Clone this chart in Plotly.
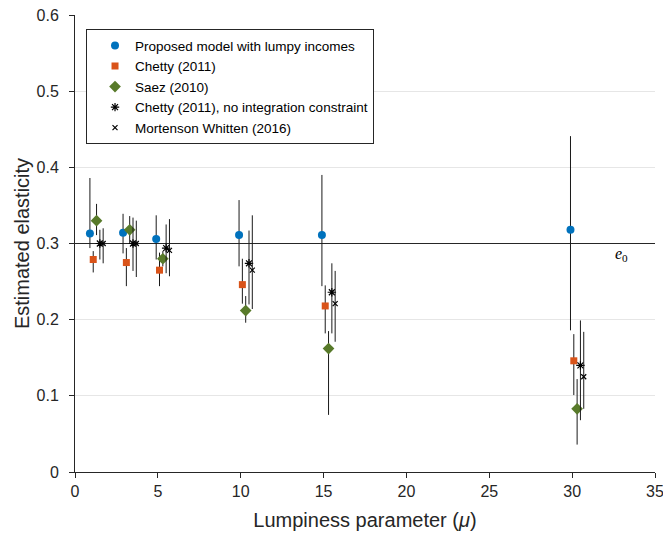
import plotly.graph_objects as go

# lumpiness parameter values
mu = [1, 3, 5, 10, 15, 30]

# estimates and 95% bands
proposed = [0.313, 0.314, 0.306, 0.311, 0.311, 0.318]
proposed_lo = [0.294, 0.287, 0.279, 0.270, 0.244, 0.186]
proposed_hi = [0.386, 0.339, 0.337, 0.357, 0.390, 0.441]

chetty = [0.279, 0.275, 0.265, 0.246, 0.218, 0.146]
chetty_lo = [0.262, 0.244, 0.244, 0.221, 0.182, 0.101]
chetty_hi = [0.290, 0.294, 0.288, 0.280, 0.245, 0.181]

saez = [0.330, 0.318, 0.280, 0.212, 0.162, 0.083]
saez_lo = [0.311, 0.300, 0.270, 0.196, 0.075, 0.036]
saez_hi = [0.352, 0.336, 0.290, 0.231, 0.185, 0.122]

chetty_nic = [0.300, 0.300, 0.294, 0.274, 0.236, 0.140]
chetty_nic_lo = [0.279, 0.264, 0.261, 0.220, 0.182, 0.068]
chetty_nic_hi = [0.318, 0.334, 0.325, 0.317, 0.274, 0.199]

mw = [0.300, 0.300, 0.291, 0.265, 0.221, 0.125]
mw_lo = [0.274, 0.256, 0.257, 0.214, 0.171, 0.083]
mw_hi = [0.320, 0.330, 0.332, 0.337, 0.264, 0.184]

e0 = 0.3
x_ticks = [0, 5, 10, 15, 20, 25, 30, 35]
y_ticks = [0, 0.1, 0.2, 0.3, 0.4, 0.5, 0.6]

series = [
    ('Proposed model with lumpy incomes', proposed, proposed_lo, proposed_hi,
     dict(symbol='circle', size=8, color='#0072BD')),
    ('Chetty (2011)', chetty, chetty_lo, chetty_hi,
     dict(symbol='square', size=7, color='#D95319')),
    ('Saez (2010)', saez, saez_lo, saez_hi,
     dict(symbol='diamond', size=9, color='#587A2A')),
    ('Chetty (2011), no integration constraint', chetty_nic, chetty_nic_lo, chetty_nic_hi,
     dict(symbol='asterisk-open', size=7, color='black', line=dict(color='black', width=1.2))),
    ('Mortenson Whitten (2016)', mw, mw_lo, mw_hi,
     dict(symbol='x-thin-open', size=5, color='black', line=dict(color='black', width=1.2))),
]
dodge = [-0.1, 0.1, 0.3, 0.5, 0.7]

fig = go.Figure()

# reference line e0
fig.add_trace(go.Scatter(x=[x_ticks[0], x_ticks[-1]], y=[e0, e0], mode='lines',
                         line=dict(color='#262626', width=1), showlegend=False,
                         hoverinfo='skip'))

for (name, est, lo, hi, marker), d in zip(series, dodge):
    fig.add_trace(go.Scatter(
        x=[m + d for m in mu], y=est, mode='markers', name=name, marker=marker,
        error_y=dict(type='data', symmetric=False,
                     array=[h - e for h, e in zip(hi, est)],
                     arrayminus=[e - l for e, l in zip(est, lo)],
                     color='#1a1a1a', thickness=1, width=0)))

fig.add_annotation(x=33.0, y=0.285, text='<i>e</i><sub>0</sub>', showarrow=False,
                   font=dict(family='Liberation Serif', size=16, color='black'))

fig.update_layout(
    width=663, height=535,
    margin=dict(l=75, r=8, t=15, b=63),
    plot_bgcolor='white', paper_bgcolor='white',
    font=dict(family='Liberation Sans, Arial', size=16, color='#262626'),
    legend=dict(x=0.019, y=0.969, xanchor='left', yanchor='top',
                bgcolor='white', bordercolor='#262626', borderwidth=1,
                font=dict(size=13.5, color='black'), indentation=8,
                itemwidth=30, tracegroupgap=0),
)
fig.update_xaxes(range=[0, 35], tickvals=x_ticks, showgrid=False, zeroline=False,
                 showline=True, linecolor='#262626', linewidth=1,
                 ticks='outside', ticklen=5, tickcolor='#262626',
                 ticklabeloverflow='allow', automargin=False,
                 title=dict(text='Lumpiness parameter (<i>μ</i>)', font=dict(size=20), standoff=13))
fig.update_yaxes(range=[0, 0.6], tickvals=y_ticks, ticktext=['0', '0.1', '0.2', '0.3', '0.4', '0.5', '0.6'],
                 showgrid=True, gridcolor='#e6e6e6', zeroline=False,
                 showline=True, linecolor='#262626', linewidth=1,
                 ticks='outside', ticklen=5, tickcolor='#262626',
                 ticklabelstandoff=7, automargin=False,
                 title=dict(text='Estimated elasticity', font=dict(size=20), standoff=1))

# page body has a default 8px margin; drop it so the figure sits at the window origin
fig.write_html("out.html", config={'displayModeBar': False},
               post_script="document.body.style.margin='0px';")
